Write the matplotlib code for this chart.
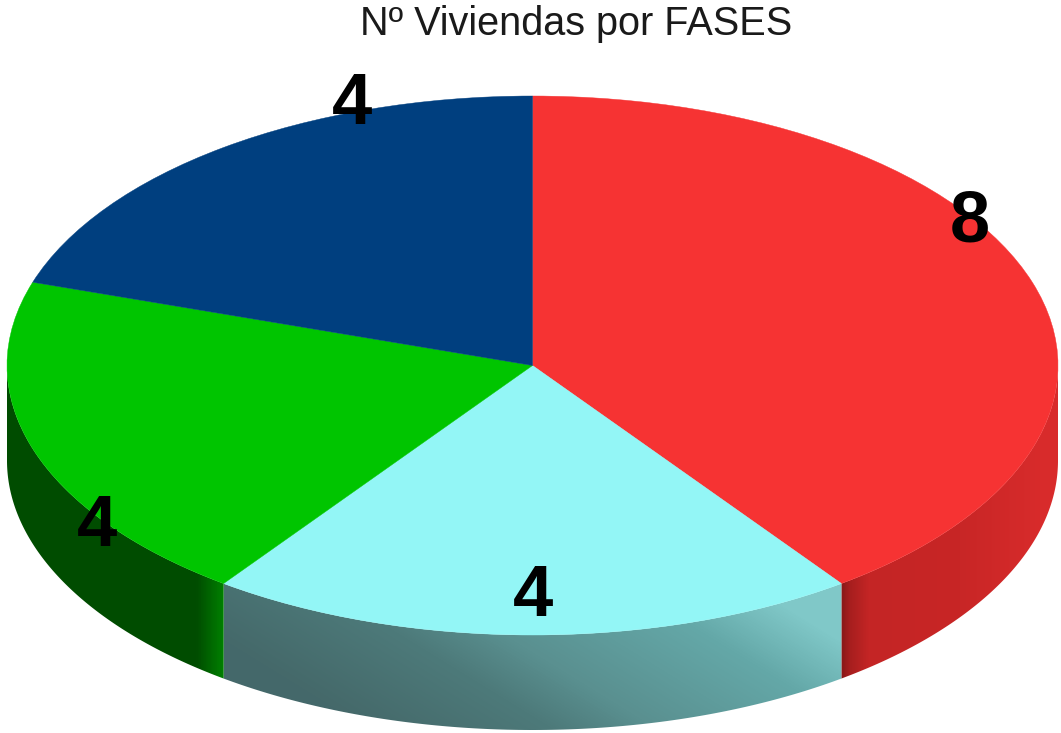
import numpy as np
import matplotlib
matplotlib.use("Agg")
import matplotlib.pyplot as plt
from matplotlib.colors import LinearSegmentedColormap
from matplotlib.patches import Polygon

plt.rcParams['font.family'] = ['Liberation Sans', 'DejaVu Sans']

title = "Nº Viviendas por FASES"
values = [8, 4, 4, 4]
labels = ["8", "4", "4", "4"]
top_colors = ["#f63333", "#93f6f6", "#00c500", "#003f7f"]
label_px = [(970, 215), (533, 590), (97, 519), (352, 98)]

W, H = 1061, 733
CX, CY, RX, RY, DEPTH = 532.5, 365.5, 525.5, 269.5, 95

fig = plt.figure(figsize=(W / 100, H / 100), dpi=100)
ax = fig.add_axes([0, 0, 1, 1])

ax.pie(values, colors=top_colors, startangle=90, counterclock=False, radius=1,
       wedgeprops=dict(linewidth=0.3, zorder=5))
for w, c in zip(ax.patches, top_colors):
    w.set_edgecolor(c)
ax.set_aspect('auto')
ax.set_xlim(-CX / RX, (W - CX) / RX)
ax.set_ylim(-(H - CY) / RY, CY / RY)
ax.axis('off')
d = DEPTH / RY

xs = np.linspace(*ax.get_xlim(), W)
ys = np.linspace(*ax.get_ylim(), H)
gx, gy = np.meshgrid(xs, ys)
px = CX + gx * RX
py = CY - gy * RY

cmaps = [
    LinearSegmentedColormap.from_list("r", [(0, "#851818"), (0.04, "#a51e1e"), (0.14, "#c42525"),
                                            (0.6, "#c82626"), (1, "#d82b2b")]),
    LinearSegmentedColormap.from_list("c", [(0, "#45696a"), (0.3, "#4d7a7a"), (0.47, "#5a9090"),
                                            (0.8, "#64a8a8"), (1, "#80c8c8")]),
    LinearSegmentedColormap.from_list("g", [(0, "#004d00"), (0.88, "#004d00"), (1, "#007f00")]),
]
fields = [
    np.clip((px - 841) / 200, 0, 1),
    np.clip((px - 223) / 617 - (py - 640) / 95 * 0.25, 0, 1),
    np.clip((px - 7) / 216, 0, 1),
]

fractions = np.array(values, dtype=float) / np.sum(values)
edges = 90 - 360 * np.concatenate([[0], np.cumsum(fractions)])
for i, (cm, f) in enumerate(zip(cmaps, fields)):
    a1, a0 = edges[i], edges[i + 1]
    # only the front part (lower half of the ellipse) of the rim is visible
    lo, hi = max(a0, -180), min(a1, 0)
    th = np.radians(np.linspace(lo, hi, 120))
    x = np.cos(th)
    y = np.sin(th)
    verts = np.column_stack([np.r_[x, x[::-1]], np.r_[y, y[::-1] - d]])
    poly = Polygon(verts, closed=True, fc="none", ec="none", transform=ax.transData)
    ax.add_patch(poly)
    im = ax.imshow(f, cmap=cm, vmin=0, vmax=1, origin='lower', aspect='auto',
                   extent=(xs[0], xs[-1], ys[0], ys[-1]), zorder=2, interpolation='bilinear')
    im.set_clip_path(poly)

ax.set_aspect('auto')
ax.set_xlim(-CX / RX, (W - CX) / RX)
ax.set_ylim(-(H - CY) / RY, CY / RY)

for s, (lx, ly) in zip(labels, label_px):
    ax.text((lx - CX) / RX, (CY - ly) / RY, s, fontsize=52, fontweight='bold', color='black',
            ha='center', va='center_baseline', zorder=10)

fig.text(576.5 / W, 1 - 24 / H, title, fontsize=28.5, color='#1a1a1a', ha='center', va='center')

fig.savefig("out.png", dpi=100, facecolor='white')
